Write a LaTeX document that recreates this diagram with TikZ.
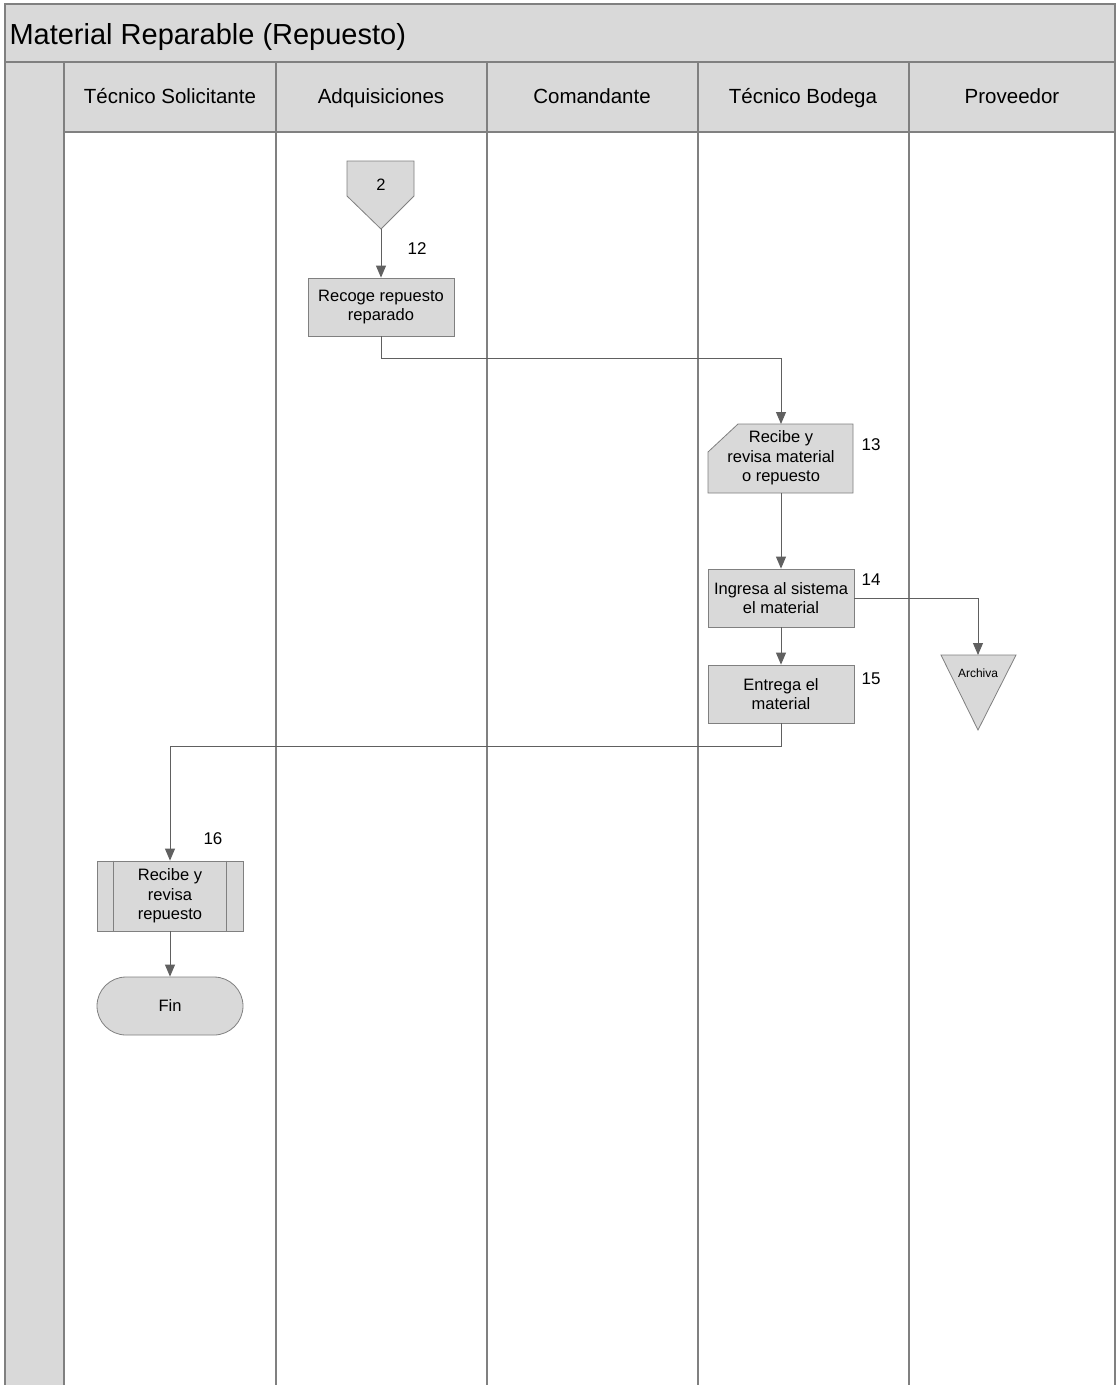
\documentclass[tikz,border=0pt]{standalone}
\usepackage{fontspec}
\setmainfont{Liberation Sans}
\usetikzlibrary{arrows.meta,positioning,calc}
\definecolor{fillg}{HTML}{D9D9D9}
\definecolor{lineg}{HTML}{808080}
\definecolor{arrg}{HTML}{606060}
\begin{document}
\begin{tikzpicture}[x={(1pt,0)},y={(0,-1pt)},
  lane/.style={draw=lineg,line width=1.6pt},
  shp/.style={draw=lineg,fill=fillg,line width=0.8pt},
  box/.style={shp,rectangle,minimum width=146pt,minimum height=58pt,inner sep=2pt,align=center,font=\fontsize{16.5}{19.5}\selectfont},
  txt/.style={align=center,font=\fontsize{16.5}{19.5}\selectfont},
  num/.style={font=\fontsize{17}{19}\selectfont},
  hdr/.style={font=\fontsize{20.5}{24}\selectfont,anchor=base},
  conn/.style={draw=arrg,line width=0.9pt},
  arr/.style={conn,-{Triangle[width=10pt,length=12pt]}}]
\useasboundingbox (0,0) rectangle (1116,1385);
\fill[white] (0,0) rectangle (1116,1385);
% title bar
\fill[fillg] (5,4) rectangle (1115,62);
\node[anchor=base west,font=\fontsize{29}{34}\selectfont] (title) at (6,44) {Material Reparable (Repuesto)};
% header row
\fill[fillg] (64,62) rectangle (1115,132);
% left column
\fill[fillg] (6,62) rectangle (64,1385);
% lane lines
\draw[lane] (5,1385) -- (5,4) -- (1115,4) -- (1115,1385);
\draw[lane] (5,62) -- (1115,62);
\draw[lane] (64,132) -- (1115,132);
\foreach \xx in {64,276,487,698,909}{\draw[lane] (\xx,62) -- (\xx,1385);}
% headers
\node[hdr] (h1) at (170,103) {Técnico Solicitante};
\node[hdr] (h2) at (381,103) {Adquisiciones};
\node[hdr] (h3) at (592,103) {Comandante};
\node[hdr] (h4) at (803,103) {Técnico Bodega};
\node[hdr] (h5) at (1012,103) {Proveedor};
% off-page connector 2
\draw[shp] (347,161) -- (414,161) -- (414,196) -- (381,229) -- (347,196) -- cycle;
\node[txt] (c2) at (381,185) {2};
\coordinate (c2tip) at (381,229);
% box 12
\node[box] (b12) at (381,307) {Recoge repuesto\\reparado};
\node[num] (n12) at (417,249) {12};
% manual input 13
\draw[shp] (738,424) -- (853,424) -- (853,493) -- (708,493) -- (708,452) -- cycle;
\node[txt] (b13) at (781,458) {Recibe y\\revisa material\\o repuesto};
\coordinate (b13top) at (781,424);
\coordinate (b13bot) at (781,493);
\node[num] (n13) at (871,445) {13};
% box 14
\node[box] (b14) at (781,598) {Ingresa al sistema\\el material};
\node[num] (n14) at (871,580) {14};
% archive triangle
\draw[shp] (941,655) -- (1016,655) -- (978,730) -- cycle;
\node[font=\fontsize{12}{14}\selectfont] (arch) at (978,673) {Archiva};
\coordinate (archtop) at (978,655);
% box 15
\node[box] (b15) at (781,694) {Entrega el\\material};
\node[num] (n15) at (871,679) {15};
% predefined process 16
\node[box,minimum height=70pt] (b16) at (170,896) {Recibe y\\revisa\\repuesto};
\draw[draw=lineg,line width=0.8pt] ($(b16.north west)+(17,0)$) -- ($(b16.south west)+(17,0)$);
\draw[draw=lineg,line width=0.8pt] ($(b16.north east)+(-17,0)$) -- ($(b16.south east)+(-17,0)$);
\node[num] (n16) at (213,839) {16};
% terminator
\node[shp,rounded corners=29pt,minimum width=146pt,minimum height=58pt,txt] (fin) at (170,1006) {Fin};
% connectors
\draw[arr] (c2tip) -- (b12.north);
\draw[arr] (b12.south) -- ++(0,22) -| (b13top);
\draw[arr] (b13bot) -- (b14.north);
\draw[arr] (b14.east) -| (archtop);
\draw[arr] (b14.south) -- (b15.north);
\draw[arr] (b15.south) -- ++(0,23) -| (b16.north);
\draw[arr] (b16.south) -- (fin.north);
\end{tikzpicture}
\end{document}
